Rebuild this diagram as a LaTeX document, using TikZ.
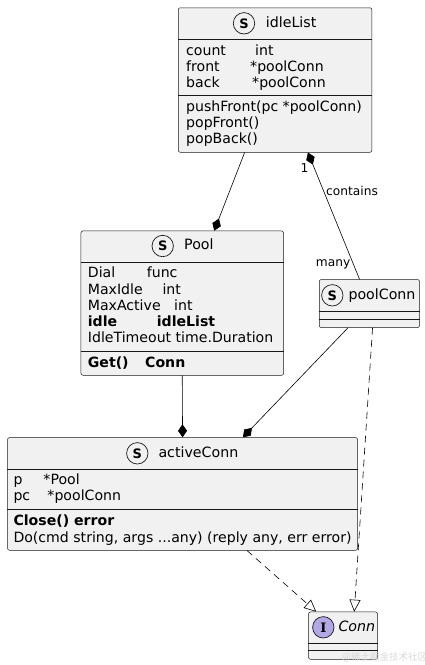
\documentclass[tikz,border=0pt]{standalone}
\usepackage{fontspec}
\setmainfont{DejaVu Sans}
\newfontfamily\cjk{Noto Sans CJK SC}
\newfontfamily\spotserif{DejaVu Serif}
\usetikzlibrary{arrows.meta,calc}
\definecolor{boxbg}{HTML}{F1F1F1}
\definecolor{boxline}{HTML}{181818}
\definecolor{ifacespot}{HTML}{B4A7E5}
\newcommand{\fieldrow}[3]{\makebox[#1][l]{#2}#3}

\begin{document}
\begin{tikzpicture}[
      x = 1pt,y = -1pt,
      cls/.style = {rectangle,draw = boxline,fill = boxbg,line width = 0.5pt,rounded corners = 2pt,anchor = north west,inner sep = 0},
      divider/.style = {draw = boxline,line width = 0.5pt},
      spot/.style = {circle,draw = boxline,fill = boxbg,line width = 0.7pt,minimum size = 21.4pt,inner sep = 0,font = \fontsize{13}{13}\selectfont\bfseries},
      clsname/.style = {anchor = west,inner sep = 0,text height = 10.5pt,text depth = 2.9pt,font = \fontsize{14.2}{16}\selectfont},
      member/.style = {anchor = west,inner sep = 0,text height = 10.5pt,text depth = 2.9pt,font = \fontsize{14.1}{16}\selectfont},
      lbl/.style = {inner sep = 0,text height = 8.9pt,text depth = 2.5pt,font = \fontsize{12.2}{14}\selectfont},
      compose/.style = {{Diamond[length = 13pt,width = 9pt]}-,line width = 0.6pt},
      realize/.style = {-{Triangle[open,length = 12pt,width = 11pt,fill = white]},line width = 0.6pt,dash pattern = on 7pt off 5pt}
    ]
      \useasboundingbox (0,0) rectangle (425,665);

      \node[cls,minimum width = 193.7pt,minimum height = 144.5pt] (idle) at (178,7.5) {};
      \draw[divider] ([yshift = -32pt]idle.north west) -- ([yshift = -32pt]idle.north east);
      \draw[divider] ([yshift = -88.2pt]idle.north west) -- ([yshift = -88.2pt]idle.north east);
      \node[spot] (idlespot) at (244,23.3) {S};
      \node[clsname] (idlename) at (265.7,23.3) {idleList};
      \node[member] (idlecount) at (186,51.7) {\fieldrow{69pt}{count}{int}};
      \node[member] (idlefront) at (186,67.5) {\fieldrow{64pt}{front}{*poolConn}};
      \node[member] (idleback) at (186,83.3) {\fieldrow{66pt}{back}{*poolConn}};
      \node[member] (idlepush) at (186,108) {pushFront(pc *poolConn)};
      \node[member] (idlepopf) at (186,124) {popFront()};
      \node[member] (idlepopb) at (186,140) {popBack()};

      \node[cls,minimum width = 202.6pt,minimum height = 144.3pt] (pool) at (80.7,230.7) {};
      \draw[divider] ([yshift = -32pt]pool.north west) -- ([yshift = -32pt]pool.north east);
      \draw[divider] ([yshift = -121pt]pool.north west) -- ([yshift = -121pt]pool.north east);
      \node[spot] (poolspot) at (162.7,246) {S};
      \node[clsname] (poolname) at (184,246) {Pool};
      \node[member] (pooldial) at (87.7,274) {\fieldrow{59pt}{Dial}{func}};
      \node[member] (poolmaxidle) at (87.7,290.2) {\fieldrow{74.6pt}{MaxIdle}{int}};
      \node[member] (poolmaxactive) at (87.7,306.6) {\fieldrow{86.3pt}{MaxActive}{int}};
      \node[member] (poolidle) at (87.7,322.8) {\bfseries\fieldrow{69pt}{idle}{idleList}};
      \node[member] (pooltimeout) at (87.7,339) {IdleTimeout time.Duration};
      \node[member] (poolget) at (87.7,363.3) {\bfseries\fieldrow{57.3pt}{Get()}{Conn}};

      \node[cls,minimum width = 100.3pt,minimum height = 48pt] (pconn) at (319,279.3) {};
      \draw[divider] ([yshift = -31.7pt]pconn.north west) -- ([yshift = -31.7pt]pconn.north east);
      \draw[divider] ([yshift = -39.7pt]pconn.north west) -- ([yshift = -39.7pt]pconn.north east);
      \node[spot] (pconnspot) at (332.3,295.3) {S};
      \node[clsname] (pconnname) at (348.3,295.3) {poolConn};

      \node[cls,minimum width = 350pt,minimum height = 112.7pt] (active) at (7.3,437.3) {};
      \draw[divider] ([yshift = -32pt]active.north west) -- ([yshift = -32pt]active.north east);
      \draw[divider] ([yshift = -72pt]active.north west) -- ([yshift = -72pt]active.north east);
      \node[spot] (activespot) at (137.3,453.3) {S};
      \node[clsname] (activename) at (158.3,453.3) {activeConn};
      \node[member] (activep) at (13.3,481) {\fieldrow{30pt}{p}{*Pool}};
      \node[member] (activepc) at (13.3,497) {\fieldrow{34pt}{pc}{*poolConn}};
      \node[member] (activeclose) at (13.3,521.7) {\bfseries Close() error};
      \node[member] (activedo) at (13.3,538.3) {Do(cmd string, args ...any) (reply any, err error)};

      \node[cls,minimum width = 69pt,minimum height = 47.3pt] (conn) at (308.3,611.7) {};
      \draw[divider] ([yshift = -31.6pt]conn.north west) -- ([yshift = -31.6pt]conn.north east);
      \draw[divider] ([yshift = -39pt]conn.north west) -- ([yshift = -39pt]conn.north east);
      \node[spot,fill = ifacespot,font = \fontsize{13}{13}\selectfont\spotserif\bfseries] (connspot) at (323.3,627.3) {I};
      \node[clsname] (connname) at (338.3,627.3) {\itshape Conn};

      \draw[compose] ([xshift = 32pt]pool.north) -- ([xshift = -30.5pt]idle.south);
      \draw[compose] ([xshift = 32.85pt]idle.south) -- ([xshift = -9.85pt]pconn.north)
        node[lbl,pos = 0.13,left = 6pt] (one) {1}
        node[lbl,pos = 0.31,right = 2pt] (contains) {contains}
        node[lbl,pos = 0.875,left = 2.5pt] (many) {many};
      \draw[compose] (active.north) -- (pool.south);
      \draw[compose] ([xshift = 60.4pt]active.north) -- ([xshift = -21.45pt]pconn.south);
      \draw[realize] ([xshift = 64.4pt]active.south) -- ([xshift = -26.8pt]conn.north);
      \draw[realize] ([xshift = 3.15pt]pconn.south) -- ([xshift = 11.2pt]conn.north);

      \node[anchor = west,inner sep = 0,text = gray!30,font = \cjk\fontsize{9.5}{10}\selectfont] (mark) at (342,657.5) {@稀土掘金技术社区};
\end{tikzpicture}
\end{document}
